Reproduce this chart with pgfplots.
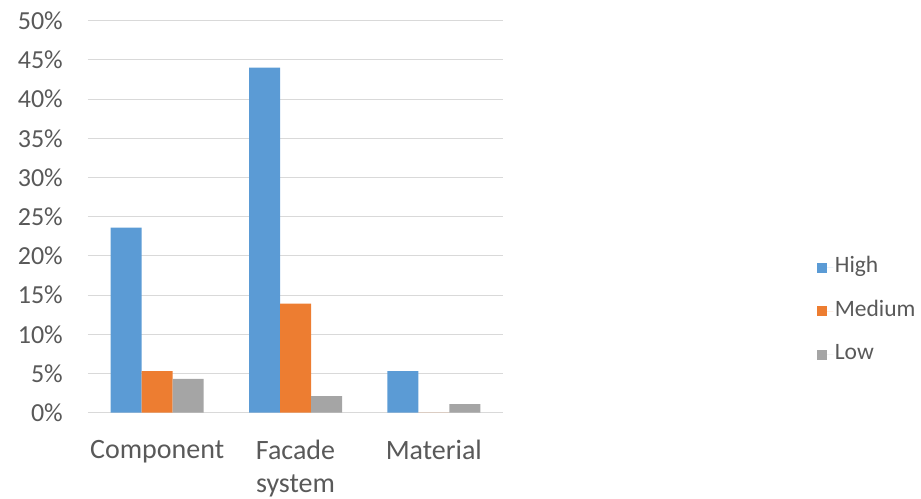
\documentclass[border=0pt]{standalone}
\usepackage{pgfplots}
\pgfplotsset{compat=1.18}
\usepackage{fontspec}
\setmainfont{Carlito}
\definecolor{cHigh}{HTML}{5B9BD5}
\definecolor{cMed}{HTML}{ED7D31}
\definecolor{cLow}{HTML}{A5A5A5}
\definecolor{txt}{HTML}{595959}
\definecolor{gridc}{HTML}{D9D9D9}
\begin{document}
\begin{tikzpicture}
\useasboundingbox (0,0) rectangle (921pt,498pt);
\begin{axis}[
  at={(88pt,85.3pt)}, anchor=south west,
  scale only axis, width=415pt, height=392pt,
  ybar=0pt, bar width=31pt,
  xmin=-0.5, xmax=2.5, ymin=0, ymax=50,
  xtick={0,1,2},
  xticklabels={Component,{Facade\\system},Material},
  ytick={0,5,10,15,20,25,30,35,40,45,50},
  yticklabels={0\%,5\%,10\%,15\%,20\%,25\%,30\%,35\%,40\%,45\%,50\%},
  major tick length=0pt,
  axis line style={draw=none},
  xmajorgrids=false, ymajorgrids=true,
  grid style={draw=gridc, line width=1pt},
  yticklabel style={font=\fontsize{26}{30}\selectfont, text=txt, inner sep=0pt, xshift=-25pt},
  xticklabel style={font=\fontsize{28}{33}\selectfont, text=txt, align=center, inner sep=0pt, yshift=-27pt},
  legend cell align=left,
  legend image code/.code={\fill[#1,draw=none] (0pt,-5pt) rectangle (10pt,5pt); \path (0pt,0pt) -- (16pt,0pt);},
  legend style={draw=none, fill=none, inner sep=0pt, at={(1.757,0.40)}, anchor=north west,
    font=\fontsize{23.5}{26}\selectfont, text=txt, row sep=20.5pt,
    nodes={inner sep=1.5pt, text height=15pt, text depth=5pt}},
]
\addplot[fill=cHigh, draw=none] coordinates {(0,23.6) (1,44.0) (2,5.3)};
\addplot[fill=cMed, draw=none] coordinates {(0,5.3) (1,13.9) (2,0)};
\addplot[fill=cLow, draw=none] coordinates {(0,4.3) (1,2.1) (2,1.1)};
\legend{High,Medium,Low}
\end{axis}
\end{tikzpicture}
\end{document}
